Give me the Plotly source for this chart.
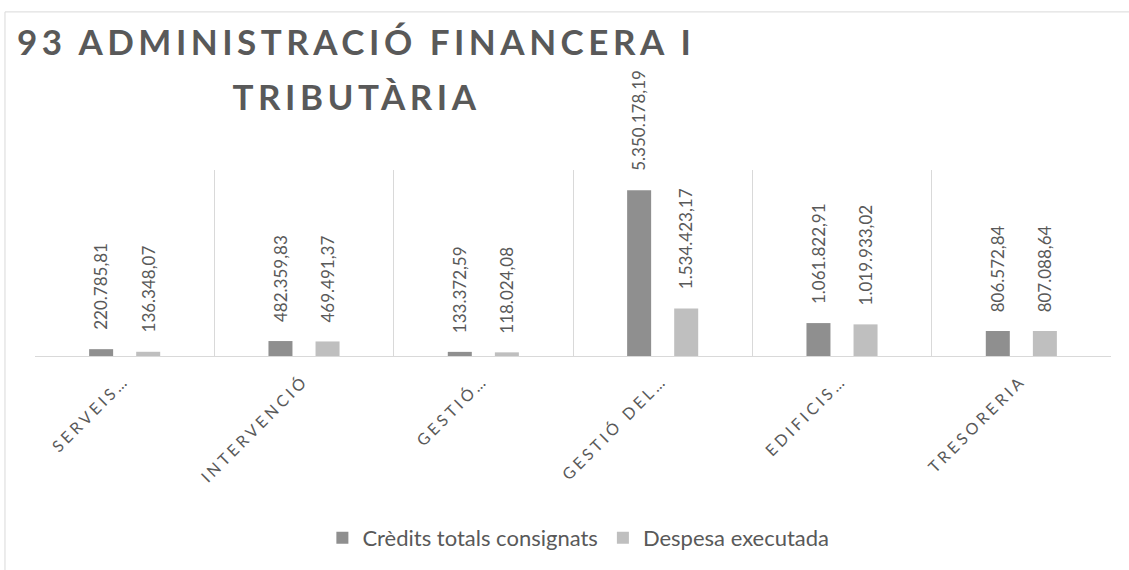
import plotly.graph_objects as go

# Budget programme 93: credits vs executed spending per sub-programme
categories = ["SERVEIS…", "INTERVENCIÓ", "GESTIÓ…", "GESTIÓ DEL…", "EDIFICIS…", "TRESORERIA"]
credits_totals = [220785.81, 482359.83, 133372.59, 5350178.19, 1061822.91, 806572.84]
despesa_executada = [136348.07, 469491.37, 118024.08, 1534423.17, 1019933.02, 807088.64]
series_names = ["Crèdits totals consignats", "Despesa executada"]
title_lines = ["93 ADMINISTRACIÓ FINANCERA I", "TRIBUTÀRIA"]

DARK = "#8f8f8f"
LIGHT = "#bfbfbf"
TEXT = "#595959"
GRID = "#d9d9d9"
FONT = "Lato"
BARGAP = 0.475


def fmt_ca(v):
    """Catalan number format: 1.234.567,89"""
    s = f"{v:,.2f}"
    return s.replace(",", "X").replace(".", ",").replace("X", ".")


fig = go.Figure()
fig.add_trace(go.Bar(x=categories, y=credits_totals, name=series_names[0],
                     marker=dict(color=DARK, line=dict(width=0))))
fig.add_trace(go.Bar(x=categories, y=despesa_executada, name=series_names[1],
                     marker=dict(color=LIGHT, line=dict(width=0))))

# second title line (first entry so it can be addressed by index)
annotations = [dict(
    x=0.299, y=1.396, xref="paper", yref="paper", text=title_lines[1],
    showarrow=False, xanchor="center", yanchor="middle",
    font=dict(family=FONT, size=35, color=TEXT, weight="bold"),
)]

# rotated value labels above each bar
half_slot = (1 - BARGAP) / 4
for i in range(len(categories)):
    for series, sign in ((credits_totals, -1), (despesa_executada, 1)):
        annotations.append(dict(
            x=i + sign * half_slot, y=series[i], xref="x", yref="y",
            text=fmt_ca(series[i]), showarrow=False, textangle=-90,
            xanchor="center", yanchor="bottom", yshift=17,
            font=dict(family=FONT, size=17, color=TEXT),
        ))

# outer chart frame (partially visible)
shapes = [
    dict(type="line", xref="paper", yref="paper", x0=-0.0279, x1=1.2,
         y0=1.850, y1=1.850, line=dict(color=GRID, width=1)),
    dict(type="line", xref="paper", yref="paper", x0=-0.0279, x1=-0.0279,
         y0=1.850, y1=-1.2, line=dict(color=GRID, width=1)),
]

fig.update_layout(
    width=1129, height=570,
    margin=dict(l=35, r=18, t=170, b=213),
    paper_bgcolor="white", plot_bgcolor="white",
    barmode="group", bargap=BARGAP, bargroupgap=0.49,
    title=dict(text=title_lines[0], x=0.3155, xanchor="center",
               y=1 - 43 / 570, yanchor="middle",
               font=dict(family=FONT, size=35, color=TEXT, weight="bold")),
    legend=dict(orientation="h", x=0.505, xanchor="center", y=-0.968, yanchor="middle",
                font=dict(family=FONT, size=22, color=TEXT), traceorder="normal"),
    annotations=annotations,
    shapes=shapes,
    showlegend=True,
)
fig.update_xaxes(showgrid=True, gridcolor=GRID, gridwidth=1, tickson="boundaries",
                 showline=True, linecolor=GRID, linewidth=1, ticks="",
                 ticklabelstandoff=8,
                 tickangle=-45, tickfont=dict(family=FONT, size=16, color=TEXT),
                 mirror=False, zeroline=False)
fig.update_yaxes(range=[0, 6000000], visible=False, showgrid=False, zeroline=False)

# letter spacing for the title and the category labels
post = """
var gd = document.getElementById('{plot_id}');
function spaceOut() {
  gd.querySelectorAll('.gtitle').forEach(function(t){ t.style.letterSpacing = '4.5px'; });
  gd.querySelectorAll('.annotation[data-index="0"] text').forEach(function(t){ t.style.letterSpacing = '4.5px'; });
  gd.querySelectorAll('.xtick text').forEach(function(t){ t.style.letterSpacing = '3.5px'; });
}
spaceOut();
gd.on('plotly_afterplot', spaceOut);
"""

fig.write_html("out.html", post_script=post)
